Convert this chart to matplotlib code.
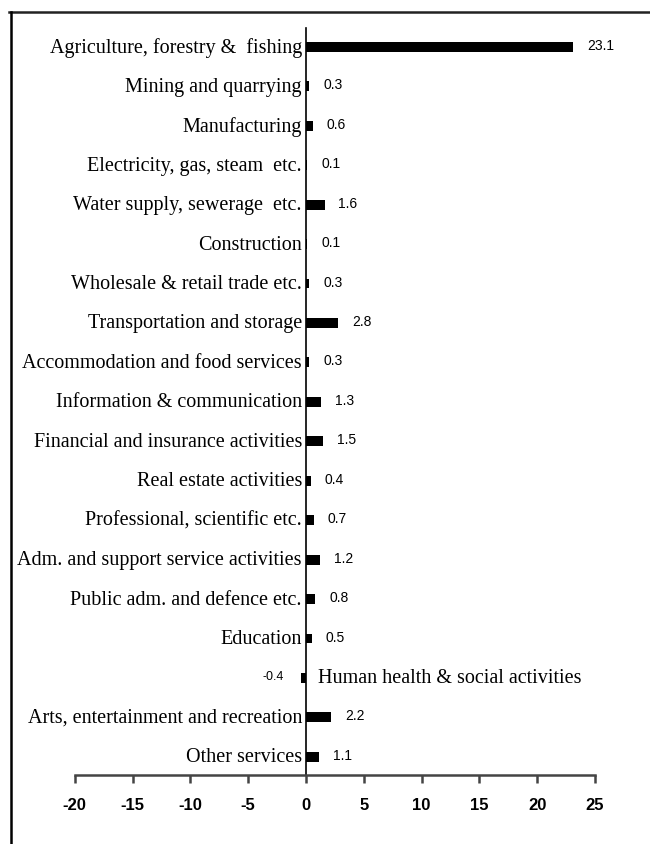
import numpy as np
import matplotlib
matplotlib.use("Agg")
import matplotlib.pyplot as plt
from matplotlib.lines import Line2D

# ---------------------------------------------------------------- data
sectors = [
    "Agriculture, forestry &  fishing",
    "Mining and quarrying",
    "Manufacturing",
    "Electricity, gas, steam  etc.",
    "Water supply, sewerage  etc.",
    "Construction",
    "Wholesale & retail trade etc.",
    "Transportation and storage",
    "Accommodation and food services",
    "Information & communication",
    "Financial and insurance activities",
    "Real estate activities",
    "Professional, scientific etc.",
    "Adm. and support service activities",
    "Public adm. and defence etc.",
    "Education",
    "Human health & social activities",
    "Arts, entertainment and recreation",
    "Other services",
]
values = [23.1, 0.3, 0.6, 0.1, 1.6, 0.1, 0.3, 2.8, 0.3, 1.3,
          1.5, 0.4, 0.7, 1.2, 0.8, 0.5, -0.4, 2.2, 1.1]
xticks = [-20, -15, -10, -5, 0, 5, 10, 15, 20, 25]

serif = "Liberation Serif"
narrow = "Liberation Sans"

fig = plt.figure(figsize=(6.5, 8.45), dpi=100)
ax = fig.add_axes([0.115, 0.0817, 0.8005, 0.884])

y = np.arange(len(sectors))
ax.barh(y, values, height=0.25, color="black")

ax.set_xlim(-20, 25)
ax.set_ylim(len(sectors) - 1 + 0.46, -0.48)

# spines: bottom axis and zero line only
for s in ["top", "right"]:
    ax.spines[s].set_visible(False)
ax.spines["left"].set_position(("data", 0))
ax.spines["left"].set_linewidth(1.2)
ax.spines["bottom"].set_color("#444444")
ax.spines["bottom"].set_linewidth(1.8)
ax.set_yticks([])
ax.set_xticks(xticks)
ax.set_xticklabels([str(t) for t in xticks], family=narrow,
                   fontweight="bold", fontsize=12)
ax.tick_params(axis="x", direction="out", length=6, width=1.8,
               color="#444444", pad=10)

for i, (name, v) in enumerate(zip(sectors, values)):
    if v < 0:
        ax.text(1.0, i, name, ha="left", va="center", family=serif, fontsize=14.5)
        ax.text(v - 1.5, i - 0.05, f"{v:.1f}", ha="right", va="center",
                family=narrow, fontsize=9)
    else:
        ax.text(-0.35, i, name, ha="right", va="center", family=serif, fontsize=14.5)
        ax.text(v + 1.2, i - 0.05, f"{v:.1f}", ha="left", va="center",
                family=narrow, fontsize=10)

# outer frame (top and left)
fig.add_artist(Line2D([9 / 650, 1], [1 - 13 / 845, 1 - 13 / 845],
                      color="#222222", lw=1.8, transform=fig.transFigure))
fig.add_artist(Line2D([10.5 / 650, 10.5 / 650], [0, 1 - 13 / 845],
                      color="black", lw=1.8, transform=fig.transFigure))

fig.savefig("out.png", dpi=100)
